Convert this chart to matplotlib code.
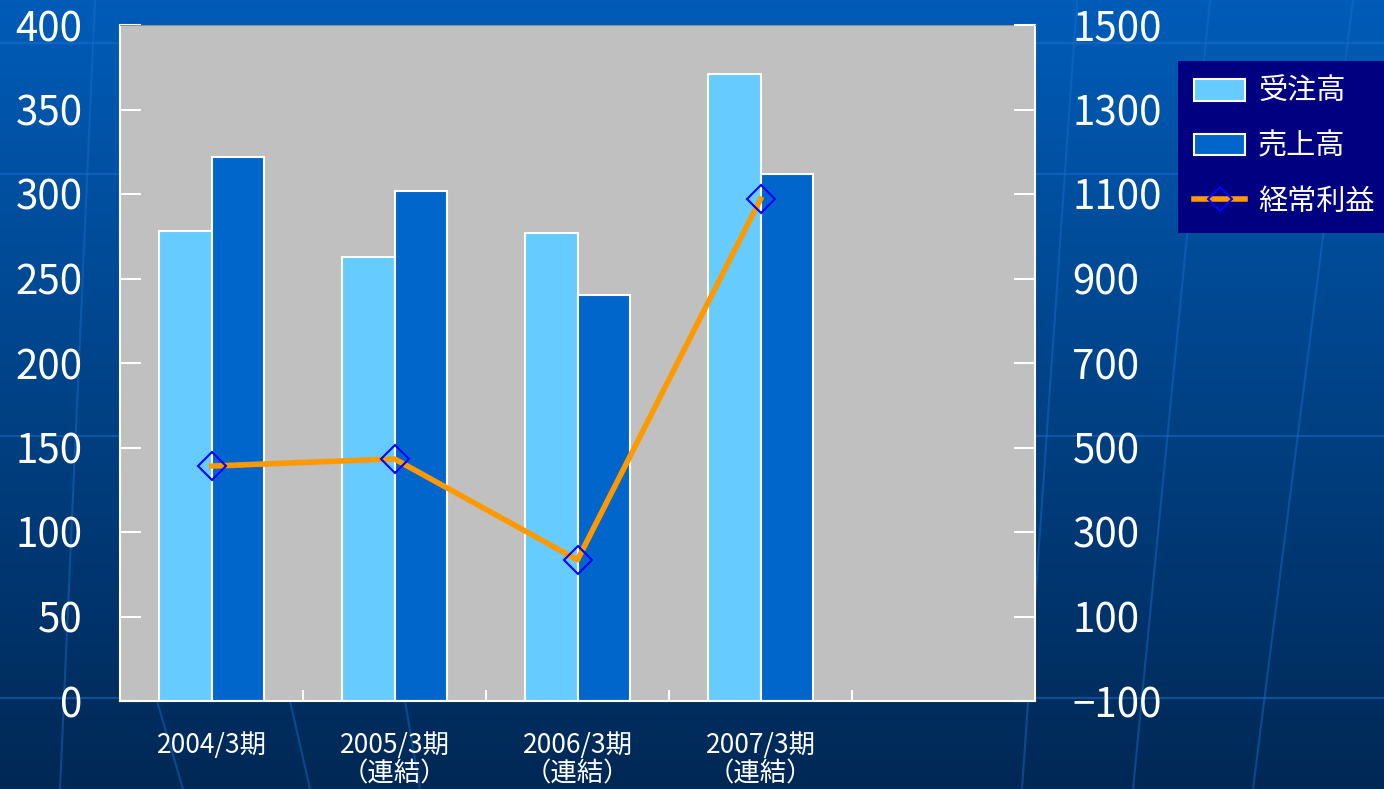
"""
受注高・売上高・経常利益の推移グラフ
"""
import numpy as np
import matplotlib
matplotlib.use('Agg')
import matplotlib.pyplot as plt
from matplotlib.lines import Line2D

# 日本語フォント設定
plt.rcParams['font.family'] = ['Noto Sans CJK JP', 'DejaVu Sans']
plt.rcParams['axes.unicode_minus'] = True

# データ
periods = ['2004/3期', '2005/3期\n（連結）', '2006/3期\n（連結）', '2007/3期\n（連結）', '']
orders = [278, 263, 277, 371]      # 受注高
sales = [322, 302, 240, 312]       # 売上高
profit = [456, 473, 234, 1088]     # 経常利益 (右軸)

left_ticks = [0, 50, 100, 150, 200, 250, 300, 350, 400]
right_ticks = [-100, 100, 300, 500, 700, 900, 1100, 1300, 1500]

C_ORDER = '#66CCFF'
C_SALES = '#0066CC'
C_LINE = '#FF9900'
C_MARK = '#0000FF'


def draw_background(fig):
    """背景グラデーションと装飾線"""
    bg = fig.add_axes([0, 0, 1, 1], zorder=-10)
    top = np.array([0x00, 0x5C, 0xB8]) / 255
    bot = np.array([0x00, 0x28, 0x55]) / 255
    t = np.linspace(0, 1, 256)[:, None]
    grad = top * (1 - t) + bot * t
    bg.imshow(grad[:, None, :].repeat(2, axis=1), aspect='auto', extent=[0, 1, 0, 1])
    # 装飾線（横）
    for y in [43, 174, 436, 698]:
        bg.plot([0, 1], [1 - y / 789] * 2, color='#1A6FD0', lw=1.5, alpha=0.5)
    # 装飾線（縦・放射状）
    segs = [((95, 0), (60, 789)), ((157, 701), (183, 789)), ((290, 701), (310, 789)),
            ((405, 701), (420, 789)), ((1077, 0), (1022, 789)), ((1210, 0), (1133, 789)),
            ((1353, 0), (1253, 789))]
    for (x0, y0), (x1, y1) in segs:
        bg.plot([x0 / 1384, x1 / 1384], [1 - y0 / 789, 1 - y1 / 789],
                color='#1A6FD0', lw=1.5, alpha=0.45)
    bg.set_xlim(0, 1)
    bg.set_ylim(0, 1)
    bg.axis('off')


fig = plt.figure(figsize=(13.84, 7.89), dpi=100)
draw_background(fig)

ax = fig.add_axes([120 / 1384, 88 / 789, 915 / 1384, 676 / 789])
ax.set_facecolor('#C0C0C0')

x = np.arange(len(periods))
w = 0.285
n = len(orders)
b1 = ax.bar(x[:n] - w / 2, orders, w, color=C_ORDER, edgecolor='white', linewidth=1.5, label='受注高')
b2 = ax.bar(x[:n] + w / 2, sales, w, color=C_SALES, edgecolor='white', linewidth=1.5, label='売上高')

ax.set_xlim(-0.5, len(periods) - 0.5)
ax.set_ylim(0, 400)
ax.set_yticks(left_ticks)
ax.set_xticks(x)
ax.set_xticklabels(periods, fontsize=19, color='white', linespacing=1.08)
ax.set_xticks(np.arange(len(periods) - 1) + 0.5, minor=True)
ax.tick_params(axis='x', which='major', length=0, pad=22)
ax.tick_params(axis='x', which='minor', direction='in', length=8, color='white', width=1.5)
ax.tick_params(axis='y', direction='in', length=15, color='white', width=1.5,
               labelsize=29, labelcolor='white', pad=27)

for side in ['left', 'right', 'bottom']:
    ax.spines[side].set_color('white')
    ax.spines[side].set_linewidth(1.5)
ax.spines['top'].set_color('#909090')

# 右軸（経常利益）
ax2 = ax.twinx()
ax2.set_ylim(-100, 1500)
ax2.set_yticks(right_ticks)
ax2.tick_params(axis='y', direction='in', length=15, color='white', width=1.5,
                labelsize=29, labelcolor='white', pad=27)
for s in ax2.spines.values():
    s.set_visible(False)
ax2.plot(x[:n], profit, color=C_LINE, lw=4, marker='D', markersize=14,
         markerfacecolor='none', markeredgecolor=C_MARK, markeredgewidth=1.5, label='経常利益')

# 凡例
line_handle = Line2D([], [], color=C_LINE, lw=4, marker='D', markersize=12,
                     markerfacecolor='none', markeredgecolor=C_MARK, markeredgewidth=1.5)
leg = ax2.legend([b1, b2, line_handle], ['受注高', '売上高', '経常利益'],
                 loc='upper left', bbox_to_anchor=(1178 / 1384, 1 - 61 / 789),
                 bbox_transform=fig.transFigure, borderaxespad=0, fontsize=21,
                 facecolor='#000080', edgecolor='none', framealpha=1, fancybox=False,
                 labelcolor='white', handlelength=1.75, handleheight=0.75,
                 labelspacing=0.85, borderpad=0.55, handletextpad=0.45)

plt.savefig('out.png', dpi=100)
plt.close()
